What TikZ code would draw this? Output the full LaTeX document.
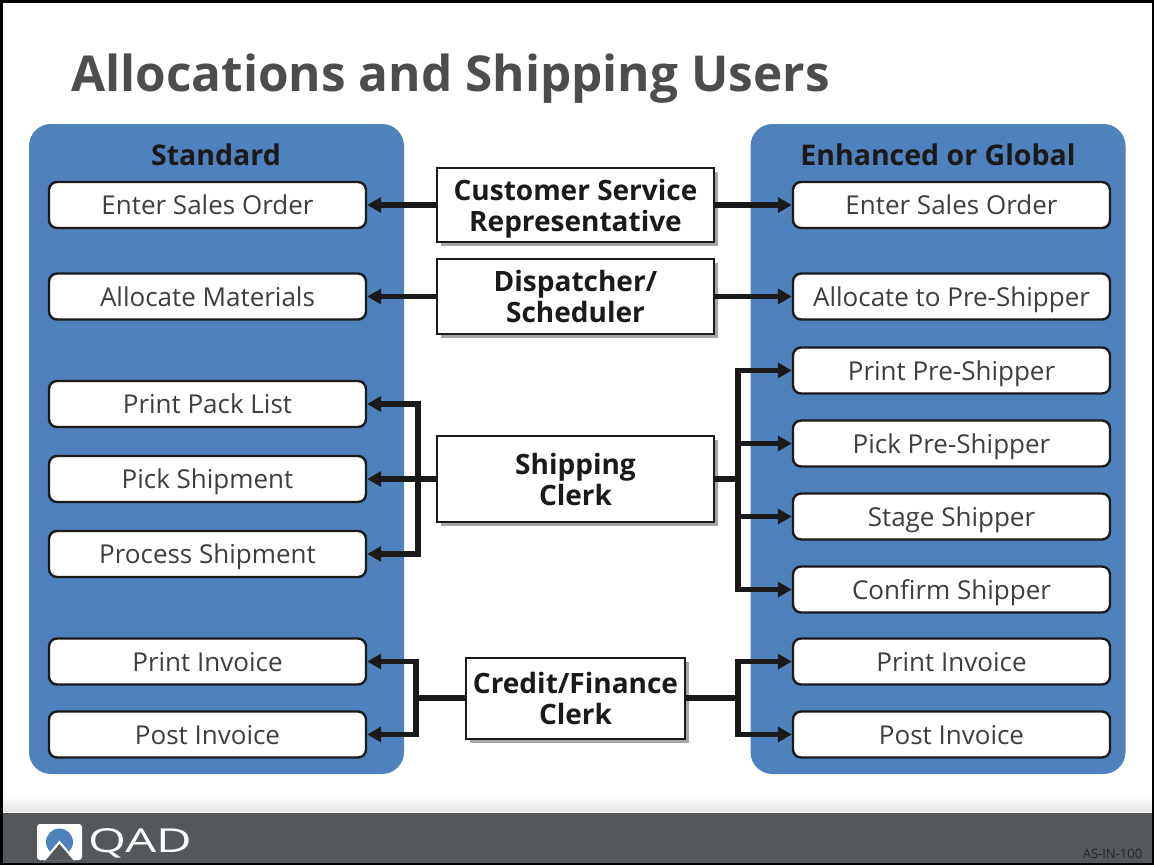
\documentclass[tikz,border=0pt]{standalone}
\usepackage{fontspec}
\setmainfont{Open Sans}
\usetikzlibrary{arrows.meta,shadows}
\definecolor{panelblue}{HTML}{4F81BD}
\definecolor{titlegray}{HTML}{4D4D4F}
\definecolor{footgray}{HTML}{54585A}
\definecolor{inkblack}{HTML}{1A1A1A}
\tikzset{
  panel/.style={fill=panelblue,draw=none,rounded corners=22pt,minimum width=375pt,minimum height=650pt},
  paneltitle/.style={font=\fontsize{28.5}{30}\selectfont\bfseries,text=inkblack,inner sep=0pt},
  item/.style={draw=inkblack,fill=white,line width=2.4pt,rounded corners=8pt,minimum width=317pt,minimum height=46pt,inner sep=0pt,text height=19pt,text depth=0pt,font=\fontsize{26}{28}\selectfont,text=titlegray!80!black},
  role/.style={draw=inkblack,fill=white,line width=2.8pt,align=center,inner sep=0pt,font=\fontsize{28}{31}\selectfont\bfseries,text=inkblack,
    drop shadow={shadow xshift=4pt,shadow yshift=-4pt,opacity=1,fill=black!35}},
  link/.style={draw=inkblack,line width=5.4pt},
  arrowlink/.style={link,-{Triangle[length=14pt,width=15pt]}},
}
\begin{document}
\begin{tikzpicture}[x=1pt,y=-1pt]
\useasboundingbox (0,0) rectangle (1154,865);
\fill[white] (0,0) rectangle (1154,865);

\shade[top color=white,bottom color=black!10] (0,795) rectangle (1154,811);
\fill[footgray] (0,813) rectangle (1154,865);
\node (title) at (450.5,79) [inner sep=0pt,text=titlegray,font=\fontsize{49.5}{54}\selectfont\bfseries] {Allocations and Shipping Users};

\node (stdpanel) at (216.5,449) [panel] {};
\node (globalpanel) at (938,449) [panel] {};
\node (stdtitle) at (216,155) [paneltitle] {Standard};
\node (globaltitle) at (938,155) [paneltitle] {Enhanced or Global};

\node (enterstd) at (207.5,205) [item] {Enter Sales Order};
\node (allocstd) at (207.5,296.5) [item] {Allocate Materials};
\node (packstd) at (207.5,404) [item] {Print Pack List};
\node (pickstd) at (207.5,479) [item] {Pick Shipment};
\node (procstd) at (207.5,554) [item] {Process Shipment};
\node (printstd) at (207.5,661.5) [item] {Print Invoice};
\node (poststd) at (207.5,734.5) [item] {Post Invoice};

\node (enterglb) at (951.5,205) [item] {Enter Sales Order};
\node (allocglb) at (951.5,296.5) [item] {Allocate to Pre-Shipper};
\node (printpre) at (951.5,370.5) [item] {Print Pre-Shipper};
\node (pickpre) at (951.5,443.5) [item] {Pick Pre-Shipper};
\node (stage) at (951.5,516.5) [item] {Stage Shipper};
\node (confirm) at (951.5,589.5) [item] {Confirm Shipper};
\node (printglb) at (951.5,661.5) [item] {Print Invoice};
\node (postglb) at (951.5,734.5) [item] {Post Invoice};

\node (csr) at (575.5,205) [role,minimum width=277pt,minimum height=74pt] {\rule{0pt}{29pt}Customer Service\\Representative};
\node (disp) at (575.5,296.5) [role,minimum width=277pt,minimum height=75pt] {Dispatcher/\\Scheduler};
\node (ship) at (575.5,479) [role,minimum width=277pt,minimum height=86pt] {Shipping\\Clerk};
\node (credit) at (575.5,698.5) [role,minimum width=219pt,minimum height=81pt] {Credit/Finance\\Clerk};

\coordinate (shipleft) at (418,479);
\coordinate (shipright) at (738,479);
\coordinate (creditleft) at (416,698);
\coordinate (creditright) at (738,698);

\draw [arrowlink] (csr.west) -- (enterstd.east);
\draw [arrowlink] (csr.east) -- (enterglb.west);
\draw [arrowlink] (disp.west) -- (allocstd.east);
\draw [arrowlink] (disp.east) -- (allocglb.west);

\draw [arrowlink] (ship.west) -- (pickstd.east);
\draw [link] (ship.west) -- (shipleft);
\draw [arrowlink] (shipleft) |- (packstd.east);
\draw [arrowlink] (shipleft) |- (procstd.east);
\draw [link] (ship.east) -- (shipright);
\draw [arrowlink] (shipright) |- (printpre.west);
\draw [arrowlink] (shipright) |- (pickpre.west);
\draw [arrowlink] (shipright) |- (stage.west);
\draw [arrowlink] (shipright) |- (confirm.west);

\draw [link] (credit.west |- creditleft) -- (creditleft);
\draw [arrowlink] (creditleft) |- (printstd.east);
\draw [arrowlink] (creditleft) |- (poststd.east);
\draw [link] (credit.east |- creditright) -- (creditright);
\draw [arrowlink] (creditright) |- (printglb.west);
\draw [arrowlink] (creditright) |- (postglb.west);

\fill[white,rounded corners=3pt] (37,824) rectangle (82,860);
\fill[panelblue] (59.5,842) circle (13.5);
\fill[white] (59.5,840.5) -- (43,860) -- (76,860) -- cycle;
\fill[footgray] (59.5,844) -- (45.5,860.5) -- (73.5,860.5) -- cycle;
\node (logo) at (140,843) [inner sep=0pt,text=white,font=\fontsize{33}{36}\selectfont] {\scalebox{1.48}[1]{QAD}};
\node (code) at (1112.5,853.5) [inner sep=0pt,text=black!85,font=\fontsize{13}{14}\selectfont] {AS-IN-100};

\draw[black,line width=2.5pt] (1.25,1.25) rectangle (1152.75,863.75);
\end{tikzpicture}
\end{document}
